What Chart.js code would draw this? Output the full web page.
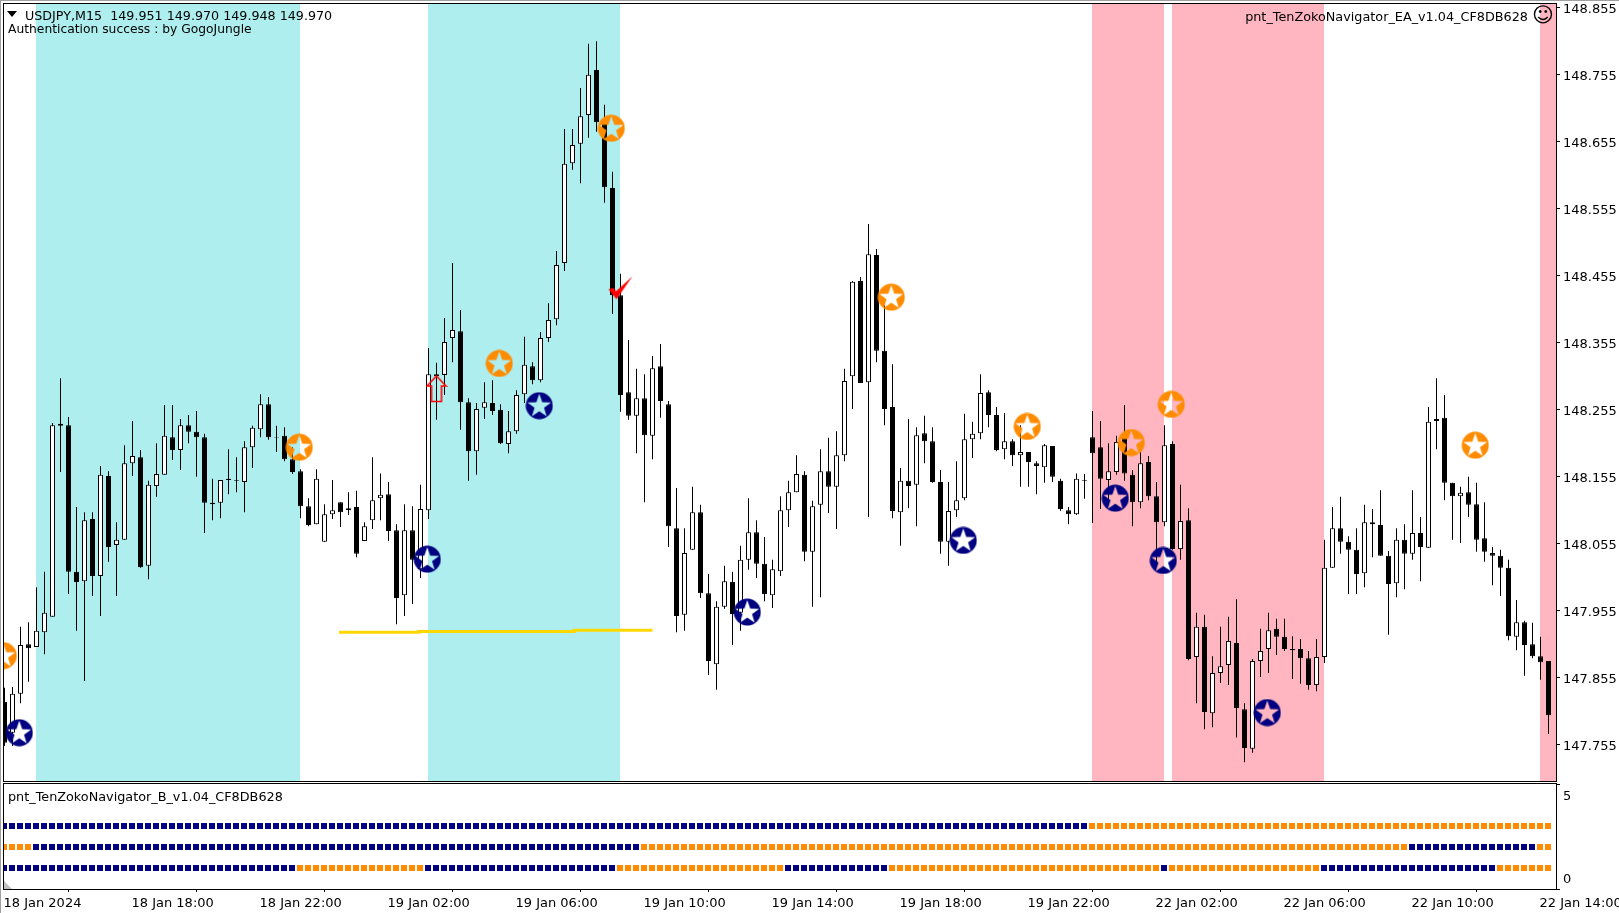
<!DOCTYPE html>
<html>
<head>
<meta charset="utf-8">
<title>USDJPY,M15</title>
<script src="https://cdn.jsdelivr.net/npm/chart.js@4/dist/chart.umd.min.js"></script>
<style>
    html, body { margin: 0; background: #fff; overflow: hidden; }
    #page { position: relative; width: 1619px; height: 913px; }
    #page::before { content: ''; position: absolute; left: 0; top: 0; right: 0; bottom: 0; border-top: 1px solid #a0a0a0; border-left: 1px solid #a0a0a0; }
    canvas { position: absolute; left: 0; }
    #mainChart { top: 0; }
    #subChart { top: 783px; }
</style>
</head>
<body>
<div id="page">
    <canvas id="mainChart" width="1619" height="783"></canvas>
    <canvas id="subChart" width="1619" height="130"></canvas>
</div>
<script>
const highs = [147.840,147.841,147.931,147.938,147.990,148.013,148.235,148.302,148.244,148.110,148.102,148.102,148.171,148.163,148.087,148.202,148.238,148.195,148.149,148.205,
148.262,148.262,148.241,148.247,148.253,148.219,148.152,148.150,148.196,148.184,148.208,148.231,148.278,148.274,148.231,148.229,148.199,148.166,148.123,148.166,
148.114,148.150,148.117,148.132,148.134,148.087,148.184,148.160,148.147,148.084,148.114,148.111,148.143,148.347,148.325,148.392,148.474,148.404,148.272,148.265,
148.296,148.299,148.263,148.253,148.284,148.364,148.326,148.371,148.414,148.492,148.674,148.674,148.735,148.801,148.805,148.710,148.610,148.458,148.359,148.316,
148.308,148.335,148.353,148.268,148.138,148.078,148.140,148.113,148.010,147.969,148.022,148.013,148.052,148.123,148.090,148.065,148.031,148.126,148.149,148.187,
148.163,148.119,148.196,148.213,148.223,148.316,148.447,148.453,148.532,148.495,148.411,148.323,148.168,148.241,148.229,148.246,148.229,148.165,148.147,148.178,
148.249,148.237,148.308,148.284,148.259,148.250,148.211,148.232,148.192,148.178,148.204,148.201,148.152,148.110,148.160,148.159,148.253,148.238,148.205,148.216,
148.262,148.165,148.192,148.186,148.147,148.232,148.208,148.143,148.108,147.952,147.949,147.887,147.931,147.946,147.972,147.817,147.883,147.928,147.952,147.943,
147.943,147.917,147.913,147.895,147.913,148.061,148.110,148.125,148.066,148.078,148.113,148.107,148.135,148.044,148.078,148.084,148.135,148.095,148.259,148.302,
148.277,148.146,148.140,148.155,148.146,148.117,148.050,148.046,148.031,147.971,147.940,147.937,147.916,147.880];

const opens = [147.819,147.773,147.831,147.905,147.901,147.923,147.946,148.234,148.232,148.013,147.999,148.092,148.007,148.156,148.053,148.061,148.175,148.184,148.022,148.141,
148.158,148.214,148.195,148.232,148.222,148.214,148.116,148.116,148.152,148.150,148.147,148.199,148.226,148.263,148.214,148.216,148.181,148.163,148.111,148.084,
148.058,148.099,148.117,148.105,148.110,148.059,148.090,148.123,148.129,148.075,147.978,148.075,148.017,148.105,148.308,148.307,148.362,148.372,148.266,148.193,
148.258,148.265,148.255,148.204,148.223,148.278,148.320,148.299,148.362,148.390,148.474,148.623,148.652,148.695,148.762,148.683,148.586,148.426,148.281,148.246,
148.272,148.216,148.320,148.263,148.078,147.949,148.046,148.102,147.981,147.875,147.961,147.998,147.952,148.031,148.072,148.025,147.978,148.014,148.105,148.132,
148.158,148.043,148.113,148.163,148.140,148.187,148.305,148.447,148.296,148.486,148.343,148.259,148.102,148.149,148.143,148.220,148.208,148.147,148.058,148.105,
148.123,148.211,148.220,148.281,148.247,148.196,148.208,148.187,148.192,148.175,148.169,148.201,148.149,148.105,148.099,148.150,148.214,148.199,148.150,148.162,
148.214,148.158,148.117,148.177,148.126,148.087,148.204,148.047,148.090,147.886,147.931,147.802,147.862,147.874,147.907,147.808,147.749,147.880,147.898,147.928,
147.916,147.898,147.898,147.884,147.844,147.886,148.019,148.078,148.058,148.046,148.011,148.087,148.083,148.037,147.996,148.061,148.040,148.071,148.049,148.238,
148.243,148.146,148.126,148.132,148.114,148.063,148.041,148.037,148.019,147.916,147.938,147.905,147.887,147.880];

const closes = [147.758,147.831,147.904,147.899,147.925,147.952,148.232,148.231,148.013,147.998,148.090,148.007,148.158,148.050,148.061,148.175,148.186,148.020,148.143,148.159,
148.216,148.195,148.232,148.222,148.214,148.116,148.114,148.150,148.150,148.149,148.199,148.228,148.263,148.214,148.213,148.181,148.162,148.111,148.083,148.152,
148.099,148.105,148.102,148.108,148.040,148.081,148.120,148.128,148.074,147.974,148.075,148.031,148.107,148.308,148.305,148.356,148.374,148.266,148.193,148.256,
148.266,148.253,148.205,148.223,148.277,148.322,148.299,148.362,148.389,148.471,148.622,148.650,148.693,148.755,148.684,148.587,148.426,148.277,148.246,148.272,
148.217,148.317,148.268,148.081,147.947,148.041,148.102,147.981,147.880,147.961,147.999,147.950,148.031,148.072,148.025,147.980,148.017,148.105,148.132,148.159,
148.043,148.111,148.163,148.140,148.187,148.298,148.446,148.295,148.487,148.343,148.256,148.104,148.149,148.141,148.217,148.208,148.147,148.058,148.104,148.120,
148.211,148.219,148.280,148.247,148.195,148.208,148.187,148.192,148.177,148.171,148.202,148.155,148.107,148.099,148.152,148.149,148.190,148.152,148.163,148.207,
148.160,148.117,148.175,148.126,148.087,148.202,148.047,148.089,147.883,147.931,147.804,147.862,147.872,147.910,147.810,147.750,147.880,147.895,147.926,147.916,
147.898,147.896,147.884,147.844,147.886,148.019,148.078,148.058,148.046,148.010,148.087,148.084,148.037,147.995,148.061,148.040,148.071,148.050,148.237,148.241,
148.146,148.126,148.131,148.113,148.061,148.043,148.037,148.019,147.917,147.938,147.904,147.887,147.878,147.799];

const lows = [147.753,147.753,147.817,147.849,147.901,147.890,147.946,148.162,147.980,147.925,147.850,147.977,147.947,148.028,147.977,148.061,148.156,148.019,148.002,148.125,
148.158,148.180,148.165,148.205,148.155,148.071,148.090,148.093,148.129,148.132,148.102,148.168,148.214,148.210,148.192,148.178,148.159,148.093,148.081,148.084,
148.058,148.092,148.080,148.098,148.035,148.059,148.077,148.090,148.059,147.935,147.947,147.965,148.004,148.092,148.240,148.277,148.326,148.225,148.149,148.158,
148.241,148.247,148.204,148.190,148.219,148.265,148.293,148.296,148.356,148.381,148.462,148.613,148.593,148.661,148.670,148.564,148.398,148.252,148.240,148.190,
148.117,148.181,148.243,148.050,147.923,147.925,148.046,147.974,147.859,147.837,147.958,147.904,147.925,148.016,148.004,147.969,147.959,148.007,148.080,148.132,
148.029,147.961,147.975,148.101,148.077,148.178,148.256,148.295,148.095,148.326,148.232,148.093,148.052,148.108,148.081,148.175,148.146,148.040,148.022,148.095,
148.120,148.183,148.211,148.229,148.193,148.181,148.171,148.140,148.140,148.129,148.146,148.147,148.104,148.084,148.098,148.122,148.086,148.107,148.120,148.158,
148.149,148.081,148.108,148.120,148.026,148.081,148.046,148.031,147.881,147.817,147.778,147.781,147.847,147.844,147.766,147.729,147.743,147.856,147.862,147.889,
147.895,147.853,147.846,147.837,147.835,147.877,148.019,148.040,147.980,147.980,147.990,148.035,148.037,147.919,147.975,147.987,148.031,147.999,148.049,148.196,
148.120,148.061,148.056,148.095,148.043,148.028,147.993,147.977,147.911,147.896,147.858,147.884,147.852,147.771];

const priceTicks = [148.855, 148.755, 148.655, 148.555, 148.455, 148.355, 148.255, 148.155, 148.055, 147.955, 147.855, 147.755];
const timeTickBars = [0, 16, 32, 48, 64, 80, 96, 112, 128, 144, 160, 176, 192];
const timeLabels = ['18 Jan 2024', '18 Jan 18:00', '18 Jan 22:00', '19 Jan 02:00', '19 Jan 06:00', '19 Jan 10:00', '19 Jan 14:00', '19 Jan 18:00', '19 Jan 22:00', '22 Jan 02:00', '22 Jan 06:00', '22 Jan 10:00', '22 Jan 14:00'];

// rectangles on the chart: [first bar, last bar]
const cyanZones = [[4, 37], [53, 77]];
const pinkZones = [[136, 145], [146, 165], [192, 194]];

// star markers
const navyStarBars = [2, 53, 67, 93, 120, 139, 145, 158];
const navyStarPrices = [147.773, 148.032, 148.261, 147.953, 148.060, 148.123, 148.030, 147.803];
const orangeStarBars = [0, 37, 62, 76, 111, 128, 141, 146, 184];
const orangeStarPrices = [147.888, 148.199, 148.324, 148.675, 148.423, 148.230, 148.206, 148.263, 148.202];

// entry arrow, exit tick
const arrowBars = [54];
const arrowPrices = [148.286];
const tickBars = [77];
const tickPrices = [148.437];

// gold level line
const levelBars = [41.8, 51.8, 51.8, 71.2, 71.2, 81];
const levelPrices = [147.923, 147.923, 147.924, 147.924, 147.926, 147.926];

// indicator window: bar where each row changes colour, first colour in the name
const rowThreeValue = 3, rowTwoValue = 2, rowOneValue = 1;
const rowThreeNavyFirst = [0, 136];
const rowTwoOrangeFirst = [0, 4, 80, 176, 192];
const rowOneNavyFirst = [0, 37, 53, 77, 98, 111, 145, 146, 165, 187];

const NAVY = '#000080';
const ORANGE = '#FF8C00';
const FONT = '"DejaVu Sans"';
const BAR_COUNT = highs.length;
const PRICE_MIN = 147.7009, PRICE_MAX = 148.8605;
const X_MIN = -0.0625, X_MAX = 193.9375;

function zoneBars(zones) {
    const bars = [];
    zones.forEach(z => {
        for (let i = z[0]; i < z[1]; i++) bars.push({ x: i + 0.4375, y: [PRICE_MIN, PRICE_MAX] });
    });
    return bars;
}

function rowColours(changes, first, second) {
    const colours = [];
    let change = 0;
    for (let i = 0; i < BAR_COUNT; i++) {
        while (change + 1 < changes.length && changes[change + 1] <= i) change++;
        colours.push(change % 2 === 0 ? first : second);
    }
    return colours;
}

function starIcon(colour) {
    const c = document.createElement('canvas');
    c.width = c.height = 28;
    const ctx = c.getContext('2d');
    ctx.fillStyle = colour;
    ctx.beginPath();
    ctx.arc(14, 14, 13.5, 0, Math.PI * 2);
    ctx.fill();
    ctx.globalCompositeOperation = 'destination-out';
    ctx.beginPath();
    for (let k = 0; k < 10; k++) {
        const r = k % 2 === 0 ? 12.5 : 5;
        const a = -Math.PI / 2 + k * Math.PI / 5;
        ctx.lineTo(14 + r * Math.cos(a), 14.5 + r * Math.sin(a));
    }
    ctx.closePath();
    ctx.fill();
    return c;
}

function arrowIcon() {
    const c = document.createElement('canvas');
    c.width = 22;
    c.height = 28;
    const ctx = c.getContext('2d');
    ctx.strokeStyle = '#FF0000';
    ctx.lineWidth = 1.6;
    ctx.beginPath();
    ctx.moveTo(11, 1);
    ctx.lineTo(20.5, 11);
    ctx.lineTo(16, 11);
    ctx.lineTo(16, 26.5);
    ctx.lineTo(6, 26.5);
    ctx.lineTo(6, 11);
    ctx.lineTo(1.5, 11);
    ctx.closePath();
    ctx.stroke();
    return c;
}

function tickIcon() {
    const c = document.createElement('canvas');
    c.width = 26;
    c.height = 25;
    const ctx = c.getContext('2d');
    ctx.fillStyle = '#FF0000';
    ctx.beginPath();
    ctx.moveTo(1, 14);
    ctx.lineTo(6, 12.5);
    ctx.lineTo(8.5, 16);
    ctx.lineTo(25, 1);
    ctx.lineTo(9, 24);
    ctx.closePath();
    ctx.fill();
    return c;
}

function markerDataset(bars, prices, icon, radius, shift) {
    return {
        type: 'line',
        showLine: false,
        data: bars.map((b, i) => ({ x: b + shift, y: prices[i] })),
        pointStyle: icon,
        pointRadius: radius,
        order: 0
    };
}

// frame and chart texts
const mainFrame = {
    id: 'mainFrame',
    afterDraw(chart) {
        const ctx = chart.ctx;
        ctx.save();
        ctx.strokeStyle = '#000';
        ctx.lineWidth = 1;
        ctx.strokeRect(3.5, 3.5, 1553, 778);
        ctx.fillStyle = '#000';
        ctx.beginPath();
        ctx.moveTo(7, 11);
        ctx.lineTo(17, 11);
        ctx.lineTo(12, 17);
        ctx.closePath();
        ctx.fill();
        ctx.textBaseline = 'middle';
        ctx.textAlign = 'left';
        ctx.font = '12.7px ' + FONT;
        ctx.fillText('USDJPY,M15  149.951 149.970 149.948 149.970', 25, 16.5);
        ctx.font = '12.3px ' + FONT;
        ctx.fillText('Authentication success : by GogoJungle', 8, 29.5);
        ctx.textAlign = 'right';
        ctx.font = '12.8px ' + FONT;
        ctx.fillText('pnt_TenZokoNavigator_EA_v1.04_CF8DB628', 1528, 18);
        ctx.font = '21px ' + FONT;
        ctx.textAlign = 'center';
        ctx.fillText('\u263A', 1543, 17);
        ctx.restore();
    }
};

const subFrame = {
    id: 'subFrame',
    afterDraw(chart) {
        const ctx = chart.ctx;
        ctx.save();
        ctx.strokeStyle = '#000';
        ctx.lineWidth = 1;
        ctx.strokeRect(3.5, 0.5, 1553, 106);
        ctx.fillStyle = '#c0c0c0';
        ctx.beginPath();
        ctx.moveTo(4, 98);
        ctx.lineTo(12, 106);
        ctx.lineTo(4, 106);
        ctx.closePath();
        ctx.fill();
        ctx.fillStyle = '#000';
        ctx.font = '12.8px ' + FONT;
        ctx.textBaseline = 'middle';
        ctx.fillText('pnt_TenZokoNavigator_B_v1.04_CF8DB628', 8, 15);
        ctx.restore();
    }
};

function fixPadding(scale) {
    scale.paddingLeft = 0;
    scale.paddingRight = 0;
    scale.paddingTop = 0;
    scale.paddingBottom = 0;
}

new Chart(document.getElementById('mainChart'), {
    type: 'bar',
    data: {
        datasets: [
            { data: zoneBars(cyanZones), backgroundColor: '#AFEEEE', barThickness: 8, inflateAmount: 0, grouped: false, order: 5 },
            { data: zoneBars(pinkZones), backgroundColor: '#FFB6C1', barThickness: 8, inflateAmount: 0, grouped: false, order: 5 },
            { data: highs.map((h, i) => ({ x: i, y: [lows[i], h] })), backgroundColor: '#000', barThickness: 1, inflateAmount: 0, grouped: false, order: 4 },
            {
                data: opens.map((o, i) => ({ x: i, y: [o, closes[i]] })),
                backgroundColor: opens.map((o, i) => closes[i] > o ? '#fff' : '#000'),
                borderColor: '#000',
                borderWidth: 1,
                borderSkipped: false,
                barThickness: 5,
                inflateAmount: 0,
                grouped: false,
                order: 3
            },
            {
                type: 'line',
                data: levelBars.map((b, i) => ({ x: b, y: levelPrices[i] })),
                borderColor: '#FFD700',
                borderWidth: 3,
                pointRadius: 0,
                tension: 0,
                order: 2
            },
            markerDataset(navyStarBars, navyStarPrices, starIcon(NAVY), 14, -0.15),
            markerDataset(orangeStarBars, orangeStarPrices, starIcon(ORANGE), 14, -0.15),
            markerDataset(arrowBars, arrowPrices, arrowIcon(), 12, 0),
            markerDataset(tickBars, tickPrices, tickIcon(), 12, 0)
        ]
    },
    options: {
        responsive: false,
        animation: false,
        events: [],
        layout: { autoPadding: false, padding: { left: 4, top: 4, bottom: 2, right: 0 } },
        plugins: { legend: { display: false }, tooltip: { enabled: false } },
        scales: {
            x: { type: 'linear', min: X_MIN, max: X_MAX, display: false, offset: false },
            y: {
                position: 'right',
                min: PRICE_MIN,
                max: PRICE_MAX,
                grid: { drawOnChartArea: false, color: '#000', tickLength: 4, tickColor: '#000' },
                border: { display: false },
                afterBuildTicks: axis => { axis.ticks = priceTicks.map(v => ({ value: v })); },
                afterFit: axis => { axis.width = 63; fixPadding(axis); },
                ticks: {
                    color: '#000',
                    padding: 3,
                    labelOffset: 2,
                    font: { family: FONT, size: 13 },
                    autoSkip: false,
                    callback: v => v.toFixed(3)
                }
            }
        }
    },
    plugins: [mainFrame]
});

new Chart(document.getElementById('subChart'), {
    type: 'bar',
    data: {
        datasets: [
            [rowThreeValue, rowThreeNavyFirst, NAVY, ORANGE],
            [rowTwoValue, rowTwoOrangeFirst, ORANGE, NAVY],
            [rowOneValue, rowOneNavyFirst, NAVY, ORANGE]
        ].map(row => ({
            data: highs.map((h, i) => ({ x: i - 0.0625, y: [row[0] - 0.143, row[0] + 0.143] })),
            backgroundColor: rowColours(row[1], row[2], row[3]),
            barThickness: 6,
            inflateAmount: 0,
            grouped: false
        }))
    },
    options: {
        responsive: false,
        animation: false,
        events: [],
        layout: { autoPadding: false, padding: { left: 4, top: 1, bottom: 0, right: 0 } },
        plugins: { legend: { display: false }, tooltip: { enabled: false } },
        scales: {
            x: {
                type: 'linear',
                min: X_MIN,
                max: X_MAX,
                offset: false,
                grid: { drawOnChartArea: false, color: '#000', tickLength: 3, tickColor: '#000' },
                border: { display: false },
                afterBuildTicks: axis => { axis.ticks = timeTickBars.map(v => ({ value: v })); },
                afterFit: axis => { axis.height = 24; fixPadding(axis); },
                ticks: {
                    color: '#000',
                    align: 'start',
                    padding: 4,
                    labelOffset: -1,
                    autoSkip: false,
                    maxRotation: 0,
                    minRotation: 0,
                    font: { family: FONT, size: 13 },
                    callback: (v, i) => timeLabels[i]
                }
            },
            y: {
                position: 'right',
                min: 0,
                max: 5,
                grid: { drawOnChartArea: false, color: '#000', tickLength: 4, tickColor: '#000' },
                border: { display: false },
                afterBuildTicks: axis => { axis.ticks = [{ value: 5 }, { value: 0 }]; },
                afterFit: axis => { axis.width = 63; fixPadding(axis); },
                ticks: {
                    color: '#000',
                    padding: 3,
                    labelOffset: 2,
                    font: { family: FONT, size: 13, lineHeight: 1.7 },
                    callback: v => v === 5 ? ['', '5'] : ['0', '']
                }
            }
        }
    },
    plugins: [subFrame]
});
</script>
</body>
</html>
